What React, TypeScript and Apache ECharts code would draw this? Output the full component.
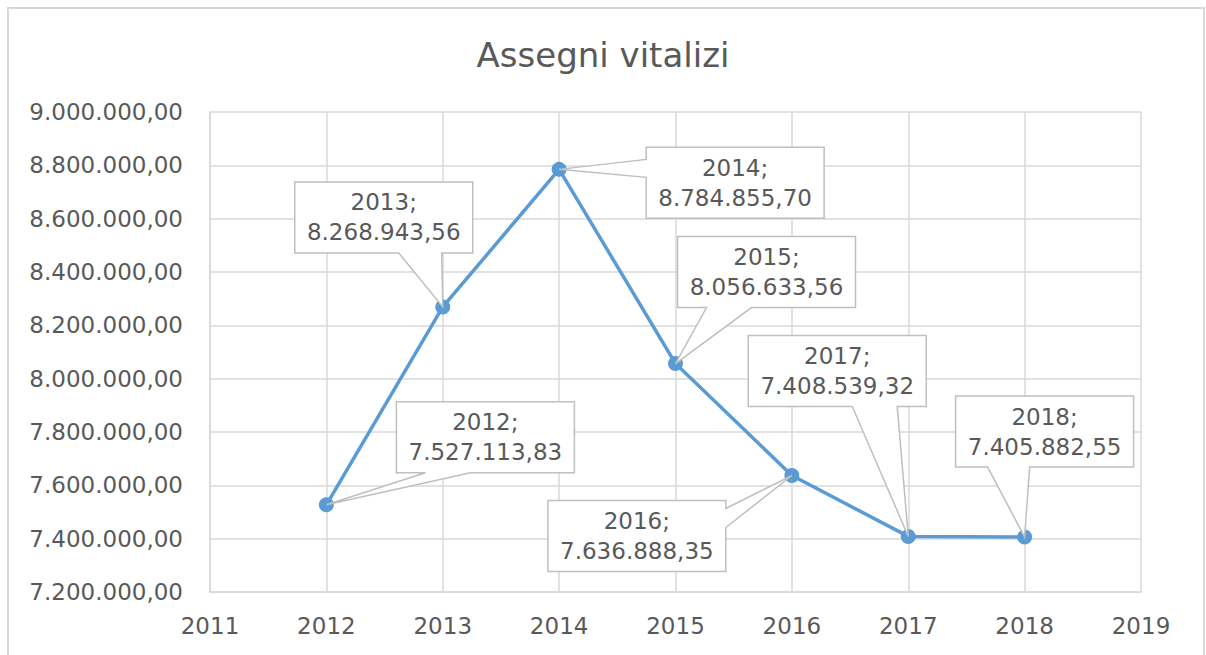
import React, { useEffect, useRef } from "react";
import * as echarts from "echarts";

const TITLE = "Assegni vitalizi";
const years = [2012, 2013, 2014, 2015, 2016, 2017, 2018];
const values = [7527113.83, 8268943.56, 8784855.7, 8056633.56, 7636888.35, 7408539.32, 7405882.55];
const xMin = 2011;
const xMax = 2019;
const yMin = 7200000;
const yMax = 9000000;
const yStep = 200000;

// callout box placement relative to the data point (pixels), and the wedge attachment edge
const calloutLayout = [
  { dx: 70, dy: -103, edge: "bottom", a: 29, b: 74 },
  { dx: -148, dy: -125, edge: "bottom", a: 104, b: 147 },
  { dx: 87, dy: -22, edge: "left", a: 12, b: 30 },
  { dx: 2, dy: -127, edge: "bottom", a: 29, b: 74 },
  { dx: -244, dy: 25, edge: "right", a: 8, b: 27 },
  { dx: -160, dy: -201, edge: "bottom", a: 104, b: 149 },
  { dx: -69, dy: -141, edge: "bottom", a: 32, b: 74 },
];
const BOX_W = 178;
const BOX_H = 71;

const FONT = "DejaVu Sans";
const TEXT_COLOR = "#595959";
const GRID_COLOR = "#d9d9d9";
const LINE_COLOR = "#5b9bd5";

function fmtIt(v: number): string {
  const [intPart, dec] = v.toFixed(2).split(".");
  const withDots = intPart.replace(/\B(?=(\d{3})+(?!\d))/g, ".");
  return withDots + "," + dec;
}

export default function App() {
  const ref = useRef<HTMLDivElement>(null);
  useEffect(() => {
    if (!ref.current) return;
    const chart = echarts.init(ref.current, undefined, { renderer: "svg" });
    const data = years.map((y, i) => [y, values[i]]);
    chart.setOption({
      animation: false,
      backgroundColor: "#ffffff",
      textStyle: { fontFamily: FONT },
      title: {
        text: TITLE,
        left: "center",
        top: 33,
        textStyle: { fontFamily: FONT, fontSize: 34, fontWeight: "normal", color: TEXT_COLOR },
      },
      graphic: [
        {
          type: "rect",
          shape: { x: 8, y: 8, width: 1196, height: 700 },
          style: { fill: "none", stroke: GRID_COLOR, lineWidth: 2 },
          silent: true,
          z: -10,
        },
      ],
      grid: { left: 210, right: 65, top: 112, bottom: 63 },
      xAxis: {
        type: "value",
        min: xMin,
        max: xMax,
        interval: 1,
        axisLine: { show: true, lineStyle: { color: GRID_COLOR, width: 1.5 } },
        axisTick: { show: false },
        splitLine: { show: true, lineStyle: { color: GRID_COLOR, width: 1.5 } },
        axisLabel: {
          color: TEXT_COLOR,
          fontFamily: FONT,
          fontSize: 23,
          margin: 22,
          formatter: (v: number) => String(v),
        },
      },
      yAxis: {
        type: "value",
        min: yMin,
        max: yMax,
        interval: yStep,
        axisLine: { show: true, lineStyle: { color: GRID_COLOR, width: 1.5 } },
        axisTick: { show: false },
        splitLine: { show: true, lineStyle: { color: GRID_COLOR, width: 1.5 } },
        axisLabel: {
          color: TEXT_COLOR,
          fontFamily: FONT,
          fontSize: 23,
          margin: 27,
          formatter: (v: number) => fmtIt(v),
        },
      },
      series: [
        {
          type: "line",
          data,
          symbol: "circle",
          symbolSize: 15,
          lineStyle: { color: LINE_COLOR, width: 3.5 },
          itemStyle: { color: LINE_COLOR },
          z: 3,
        },
        {
          type: "custom",
          coordinateSystem: "cartesian2d",
          data,
          encode: { x: 0, y: 1 },
          z: 5,
          renderItem: (params: any, api: any) => {
            const i = params.dataIndex;
            const p = api.coord([api.value(0), api.value(1)]);
            const L = calloutLayout[i];
            const x0 = p[0] + L.dx;
            const y0 = p[1] + L.dy;
            const x1 = x0 + BOX_W;
            const y1 = y0 + BOX_H;
            let pts: number[][];
            if (L.edge === "top") {
              pts = [[x0, y0], [x0 + L.a, y0], p, [x0 + L.b, y0], [x1, y0], [x1, y1], [x0, y1]];
            } else if (L.edge === "right") {
              pts = [[x0, y0], [x1, y0], [x1, y0 + L.a], p, [x1, y0 + L.b], [x1, y1], [x0, y1]];
            } else if (L.edge === "left") {
              pts = [[x0, y0], [x1, y0], [x1, y1], [x0, y1], [x0, y0 + L.b], p, [x0, y0 + L.a]];
            } else {
              pts = [[x0, y0], [x1, y0], [x1, y1], [x0 + L.b, y1], p, [x0 + L.a, y1], [x0, y1]];
            }
            return {
              type: "group",
              children: [
                {
                  type: "polygon",
                  shape: { points: pts },
                  style: { fill: "#ffffff", stroke: "#bfbfbf", lineWidth: 1.5 },
                },
                {
                  type: "text",
                  style: {
                    text: years[i] + ";\n" + fmtIt(values[i]),
                    x: (x0 + x1) / 2,
                    y: (y0 + y1) / 2,
                    align: "center",
                    verticalAlign: "middle",
                    fill: TEXT_COLOR,
                    font: "23px '" + FONT + "'",
                    lineHeight: 30,
                  },
                },
              ],
            };
          },
        },
      ],
    });
    return () => chart.dispose();
  }, []);
  return (
    <div
      ref={ref}
      style={{ position: "absolute", left: 0, top: 0, width: 1206, height: 655 }}
    />
  );
}
